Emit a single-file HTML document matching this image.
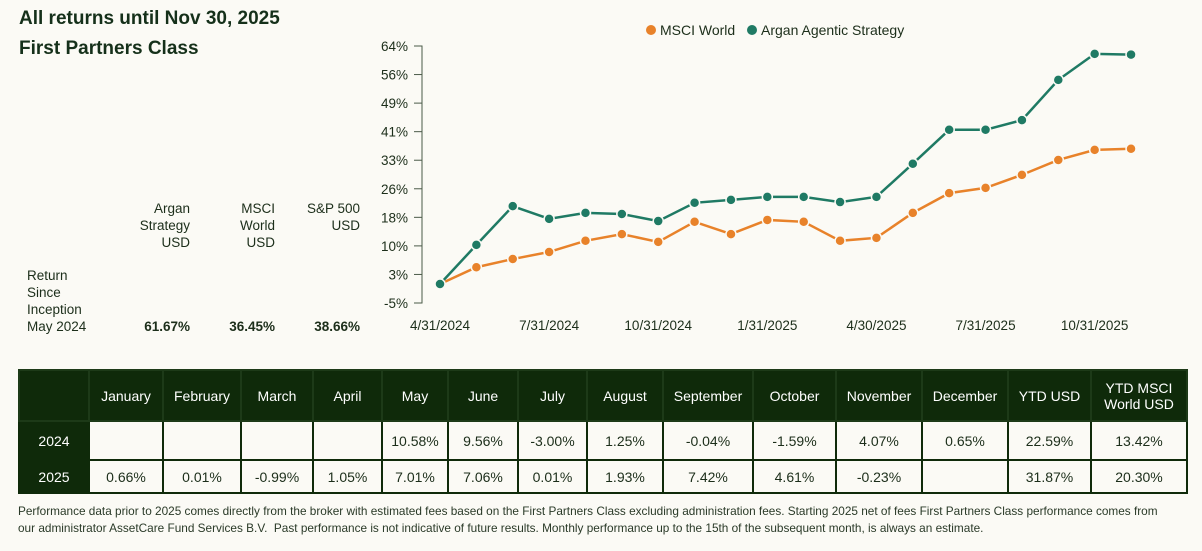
<!DOCTYPE html>
<html><head><meta charset="utf-8"><style>
body{margin:0;width:1202px;height:551px;background:#fbfaf5;font-family:"Liberation Sans",sans-serif;color:#1c2e1a;position:relative;overflow:hidden}
.abs{position:absolute}
.t{font-weight:bold;font-size:19px;color:#15301a}
.sm{font-size:13.5px;line-height:17px}
table{position:absolute;left:18px;top:369px;border-collapse:collapse;font-size:14px}
td,th{border:2px solid #0f2a0a;text-align:center;padding:0;color:#1c2e1a}
th{background:#0f2a0a;color:#fff;font-weight:normal;height:49px;border-color:#1d3a18}
td.y{background:#0f2a0a;color:#fff}
</style></head><body>
<div class="abs t" style="left:19px;top:8px">All returns until Nov 30, 2025</div>
<div class="abs t" style="left:19px;top:38px">First Partners Class</div>
<div class="abs sm" style="left:110px;top:200px;width:80px;text-align:right">Argan<br>Strategy<br>USD</div>
<div class="abs sm" style="left:195px;top:200px;width:80px;text-align:right">MSCI<br>World<br>USD</div>
<div class="abs sm" style="left:280px;top:200px;width:80px;text-align:right">S&amp;P 500<br>USD</div>
<div class="abs sm" style="left:27px;top:267px">Return<br>Since<br>Inception<br>May 2024</div>
<div class="abs sm" style="left:110px;top:318px;width:80px;text-align:right;font-weight:bold">61.67%</div>
<div class="abs sm" style="left:195px;top:318px;width:80px;text-align:right;font-weight:bold">36.45%</div>
<div class="abs sm" style="left:280px;top:318px;width:80px;text-align:right;font-weight:bold">38.66%</div>

<svg class="abs" style="left:0;top:0" width="1202" height="350" id="chart">
<g id="legend">
<circle cx="651" cy="30" r="5" fill="#e8822a"/><text x="660" y="35" font-size="14" fill="#1c2e1a">MSCI World</text>
<circle cx="752" cy="30" r="5" fill="#1f7a64"/><text x="761" y="35" font-size="14" fill="#1c2e1a">Argan Agentic Strategy</text>
</g>
</svg>
<script>
const yTicks=["64%","56%","49%","41%","33%","26%","18%","10%","3%","-5%"];
const xLabels=["4/31/2024","7/31/2024","10/31/2024","1/31/2025","4/30/2025","7/31/2025","10/31/2025"];
const argan=[0.1,10.6,21.0,17.6,19.2,18.9,17.0,21.9,22.7,23.5,23.5,22.1,23.5,32.4,41.5,41.5,44.1,54.9,61.9,61.7];
const msci=[0.1,4.6,6.8,8.7,11.7,13.5,11.4,16.8,13.5,17.3,16.8,11.7,12.5,19.2,24.5,25.9,29.4,33.4,36.1,36.4];
const NS="http://www.w3.org/2000/svg",svg=document.getElementById('chart');
const yMin=-5,yMax=64,y0=303,y1=46,x0=440,dx=36.37;
const Y=v=>y0-(v-yMin)/(yMax-yMin)*(y0-y1);
const X=i=>x0+i*dx;
function mk(t,a){const e=document.createElementNS(NS,t);for(const k in a)e.setAttribute(k,a[k]);svg.appendChild(e);return e;}
const ax=mk('path',{d:`M414 ${y1}H422V${y0}H414`,fill:'none',stroke:'#4a5a48','stroke-width':1});


yTicks.forEach((l,i)=>{const y=y1+i*(y0-y1)/(yTicks.length-1);
 const tk=mk('line',{x1:414,x2:422,y1:y,y2:y,stroke:'#4a5a48'});
 
 
 const t=mk('text',{x:408,y:y+5,'text-anchor':'end','font-size':13.5,fill:'#1c2e1a'});t.textContent=l;
 
 });
xLabels.forEach((l,i)=>{const t=mk('text',{x:X(i*3),y:330,'text-anchor':'middle','font-size':13.5,fill:'#1c2e1a'});t.textContent=l;
 
 });
[[msci,'#e8822a','msci-world'],[argan,'#1f7a64','argan-strategy']].forEach(([d,c,n])=>{
 const p=mk('polyline',{points:d.map((v,i)=>X(i)+','+Y(v)).join(' '),fill:'none',stroke:c,'stroke-width':2.5});
 
 
 d.forEach((v,i)=>{const ci=mk('circle',{cx:X(i),cy:Y(v),r:5,fill:c,stroke:'#fbfaf5','stroke-width':1.5});
  
  });
});
</script>

<table>
<tr style="height:51px"><th style="width:68px"></th><th style="width:72px">January</th><th style="width:76px">February</th><th style="width:70px">March</th><th style="width:67px">April</th><th style="width:64px">May</th><th style="width:68px">June</th><th style="width:67px">July</th><th style="width:74px">August</th><th style="width:88px">September</th><th style="width:81px">October</th><th style="width:84px">November</th><th style="width:84px">December</th><th style="width:81px">YTD USD</th><th style="width:94px">YTD MSCI<br>World USD</th></tr>
<tr style="height:39px"><td class="y">2024</td><td></td><td></td><td></td><td></td><td>10.58%</td><td>9.56%</td><td>-3.00%</td><td>1.25%</td><td>-0.04%</td><td>-1.59%</td><td>4.07%</td><td>0.65%</td><td>22.59%</td><td>13.42%</td></tr>
<tr style="height:33px"><td class="y">2025</td><td>0.66%</td><td>0.01%</td><td>-0.99%</td><td>1.05%</td><td>7.01%</td><td>7.06%</td><td>0.01%</td><td>1.93%</td><td>7.42%</td><td>4.61%</td><td>-0.23%</td><td></td><td>31.87%</td><td>20.30%</td></tr>
</table>
<div class="abs" style="left:18px;top:503px;width:1150px;font-size:11.8px;line-height:17px;color:#2a3a28">Performance data prior to 2025 comes directly from the broker with estimated fees based on the First Partners Class excluding administration fees. Starting 2025 net of fees First Partners Class performance comes from<br>our administrator AssetCare Fund Services B.V.&nbsp; Past performance is not indicative of future results. Monthly performance up to the 15th of the subsequent month, is always an estimate.</div>
</body></html>
